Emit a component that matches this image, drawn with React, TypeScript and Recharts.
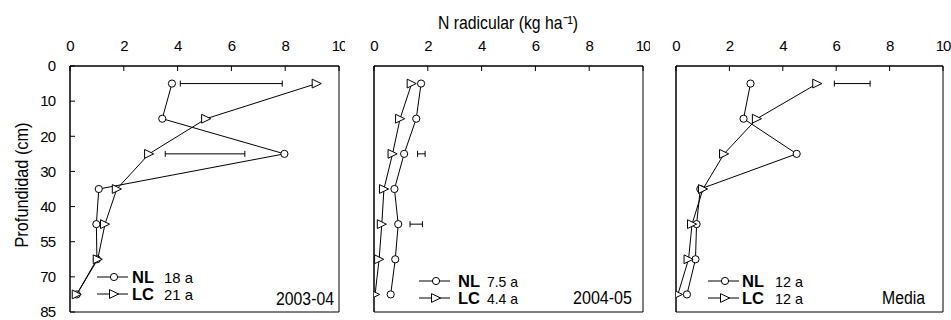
import React from "react";
import { ScatterChart, Scatter, XAxis, YAxis, ReferenceArea, ErrorBar } from "recharts";

// depth classes (cm) shown on the y axis, and the mid-depth of each sampled layer
const depthLabels = ["0", "10", "20", "30", "40", "55", "70", "85"];
const depthTicks = [0, 1, 2, 3, 4, 5, 6, 7];
const depthMid = [0.5, 1.5, 2.5, 3.5, 4.5, 5.5, 6.5];
const nTicks = [0, 2, 4, 6, 8, 10];

// N radicular, kg ha-1, per layer
const nl0304 = [3.79, 3.43, 7.97, 1.07, 0.98, 1.0, 0.25];
const lc0304 = [9.17, 5.06, 2.94, 1.74, 1.3, 1.03, 0.25];
const nl0405 = [1.75, 1.57, 1.12, 0.76, 0.9, 0.79, 0.62];
const lc0405 = [1.4, 0.97, 0.69, 0.37, 0.29, 0.19, 0.04];
const nlMedia = [2.79, 2.53, 4.52, 0.91, 0.77, 0.73, 0.41];
const lcMedia = [5.29, 3.03, 1.8, 1.01, 0.6, 0.47, 0.07];

// LSD bars: layer, low and high ends
const lsd0304Depth = [0.5, 2.5];
const lsd0304Lo = [4.1, 3.54];
const lsd0304Hi = [7.89, 6.5];
const lsd0405Depth = [2.5, 4.5];
const lsd0405Lo = [1.62, 1.34];
const lsd0405Hi = [1.9, 1.8];
const lsdMediaDepth = [0.5];
const lsdMediaLo = [5.93];
const lsdMediaHi = [7.27];

// profile totals shown in the legends
const totalsNL = ["18 a", "7.5 a", "12 a"];
const totalsLC = ["21 a", "4.4 a", "12 a"];
const periods = ["2003-04", "2004-05", "Media"];

const FONT = "'Liberation Sans', Arial, sans-serif";
const tickStyle = { fill: "#000", fontSize: 15, fontFamily: FONT, letterSpacing: -1 };

const Circle = (p: any) => (
  <circle cx={p.cx} cy={p.cy} r={3.6} fill="#fff" stroke="#000" strokeWidth={1} />
);
const Tri = (p: any) => (
  <polygon
    points={`${p.cx - 4.5},${p.cy - 4.4} ${p.cx - 4.5},${p.cy + 4.4} ${p.cx + 4.6},${p.cy}`}
    fill="#fff"
    stroke="#000"
    strokeWidth={1}
  />
);
const Empty = () => <g />;

type PanelProps = {
  left: number;
  width: number;
  mLeft: number;
  mRight: number;
  axisW: number;
  showDepth: boolean;
  nl: number[];
  lc: number[];
  lsdDepth: number[];
  lsdLo: number[];
  lsdHi: number[];
};

function Panel(props: PanelProps) {
  const nlData = depthMid.map((y, i) => ({ x: props.nl[i], y }));
  const lcData = depthMid.map((y, i) => ({ x: props.lc[i], y }));
  const lsdData = props.lsdDepth.map((y, i) => ({
    x: (props.lsdLo[i] + props.lsdHi[i]) / 2,
    y,
    err: (props.lsdHi[i] - props.lsdLo[i]) / 2,
  }));
  return (
    <div style={{ position: "absolute", left: props.left, top: 0 }}>
      <ScatterChart
        width={props.width}
        height={320}
        margin={{ top: 36, right: props.mRight, bottom: 8, left: props.mLeft }}
      >
        <XAxis
          type="number"
          dataKey="x"
          orientation="top"
          domain={[0, 10]}
          ticks={nTicks}
          interval={0}
          height={30}
          tickSize={-5}
          tickMargin={20}
          tick={tickStyle}
          stroke="#000"
          allowDataOverflow
        />
        <YAxis
          type="number"
          dataKey="y"
          domain={[0, 7]}
          reversed
          ticks={depthTicks}
          interval={0}
          width={props.axisW}
          tickSize={-5}
          tickMargin={20}
          tick={props.showDepth ? tickStyle : false}
          tickFormatter={(v: number) => depthLabels[v]}
          stroke="#000"
          allowDataOverflow
        />
        <ReferenceArea x1={0} x2={10} y1={0} y2={7} fill="none" stroke="#000" strokeWidth={1} />
        <Scatter data={lsdData} shape={Empty} isAnimationActive={false}>
          <ErrorBar dataKey="err" direction="x" width={3} stroke="#000" strokeWidth={1} />
        </Scatter>
        <Scatter
          data={nlData}
          line={{ stroke: "#000", strokeWidth: 1 }}
          shape={Circle}
          isAnimationActive={false}
        />
        <Scatter
          data={lcData}
          line={{ stroke: "#000", strokeWidth: 1 }}
          shape={Tri}
          isAnimationActive={false}
        />
      </ScatterChart>
    </div>
  );
}

// legend and period label placement for each panel
const legendPos = [
  { lineX: 97, nameX: 132, valX: 164, rowY: 277, labelEnd: 334, labelY: 305, valW: 29 },
  { lineX: 419, nameX: 458, valX: 487, rowY: 281, labelEnd: 632, labelY: 304, valW: 31 },
  { lineX: 708, nameX: 742, valX: 775, rowY: 281, labelEnd: 925, labelY: 304, valW: 28 },
];
const periodW = [58, 59, 43];

function Legends() {
  return (
    <svg
      width={951}
      height={320}
      style={{ position: "absolute", left: 0, top: 0, pointerEvents: "none" }}
      fontFamily={FONT}
    >
      <text x={508} y={29} fontSize={19} textAnchor="middle" textLength={140} lengthAdjust="spacingAndGlyphs">
        N radicular (kg ha⁻¹)
      </text>
      <text
        x={28}
        y={185}
        fontSize={19}
        textAnchor="middle"
        transform="rotate(-90 28 185)"
        textLength={125}
        lengthAdjust="spacingAndGlyphs"
      >
        Profundidad (cm)
      </text>
      {legendPos.map((p, i) => (
        <g key={periods[i]}>
          {[0, 1].map((r) => {
            const cy = p.rowY + r * 17;
            return (
              <g key={r}>
                <line x1={p.lineX} x2={p.lineX + 31} y1={cy} y2={cy} stroke="#000" strokeWidth={1} />
                {r === 0 ? (
                  <Circle cx={p.lineX + 17} cy={cy} />
                ) : (
                  <Tri cx={p.lineX + 17} cy={cy} />
                )}
                <text
                  x={p.nameX}
                  y={cy + 6}
                  fontSize={16}
                  fontWeight="bold"
                  textLength={22}
                  lengthAdjust="spacingAndGlyphs"
                >
                  {r === 0 ? "NL" : "LC"}
                </text>
                <text x={p.valX} y={cy + 6} fontSize={15} textLength={p.valW} lengthAdjust="spacingAndGlyphs">
                  {r === 0 ? totalsNL[i] : totalsLC[i]}
                </text>
              </g>
            );
          })}
          <text
            x={p.labelEnd}
            y={p.labelY}
            fontSize={18}
            textAnchor="end"
            textLength={periodW[i]}
            lengthAdjust="spacingAndGlyphs"
          >
            {periods[i]}
          </text>
        </g>
      ))}
    </svg>
  );
}

export default function App() {
  return (
    <div style={{ position: "absolute", left: 0, top: 0, width: 951, height: 320, background: "#fff" }}>
      <Panel left={0} width={345} mLeft={30} mRight={6} axisW={40} showDepth nl={nl0304} lc={lc0304}
        lsdDepth={lsd0304Depth} lsdLo={lsd0304Lo} lsdHi={lsd0304Hi} />
      <Panel left={340} width={310} mLeft={24} mRight={7} axisW={10} showDepth={false} nl={nl0405} lc={lc0405}
        lsdDepth={lsd0405Depth} lsdLo={lsd0405Lo} lsdHi={lsd0405Hi} />
      <Panel left={650} width={301} mLeft={16} mRight={8} axisW={10} showDepth={false} nl={nlMedia} lc={lcMedia}
        lsdDepth={lsdMediaDepth} lsdLo={lsdMediaLo} lsdHi={lsdMediaHi} />
      <Legends />
    </div>
  );
}
